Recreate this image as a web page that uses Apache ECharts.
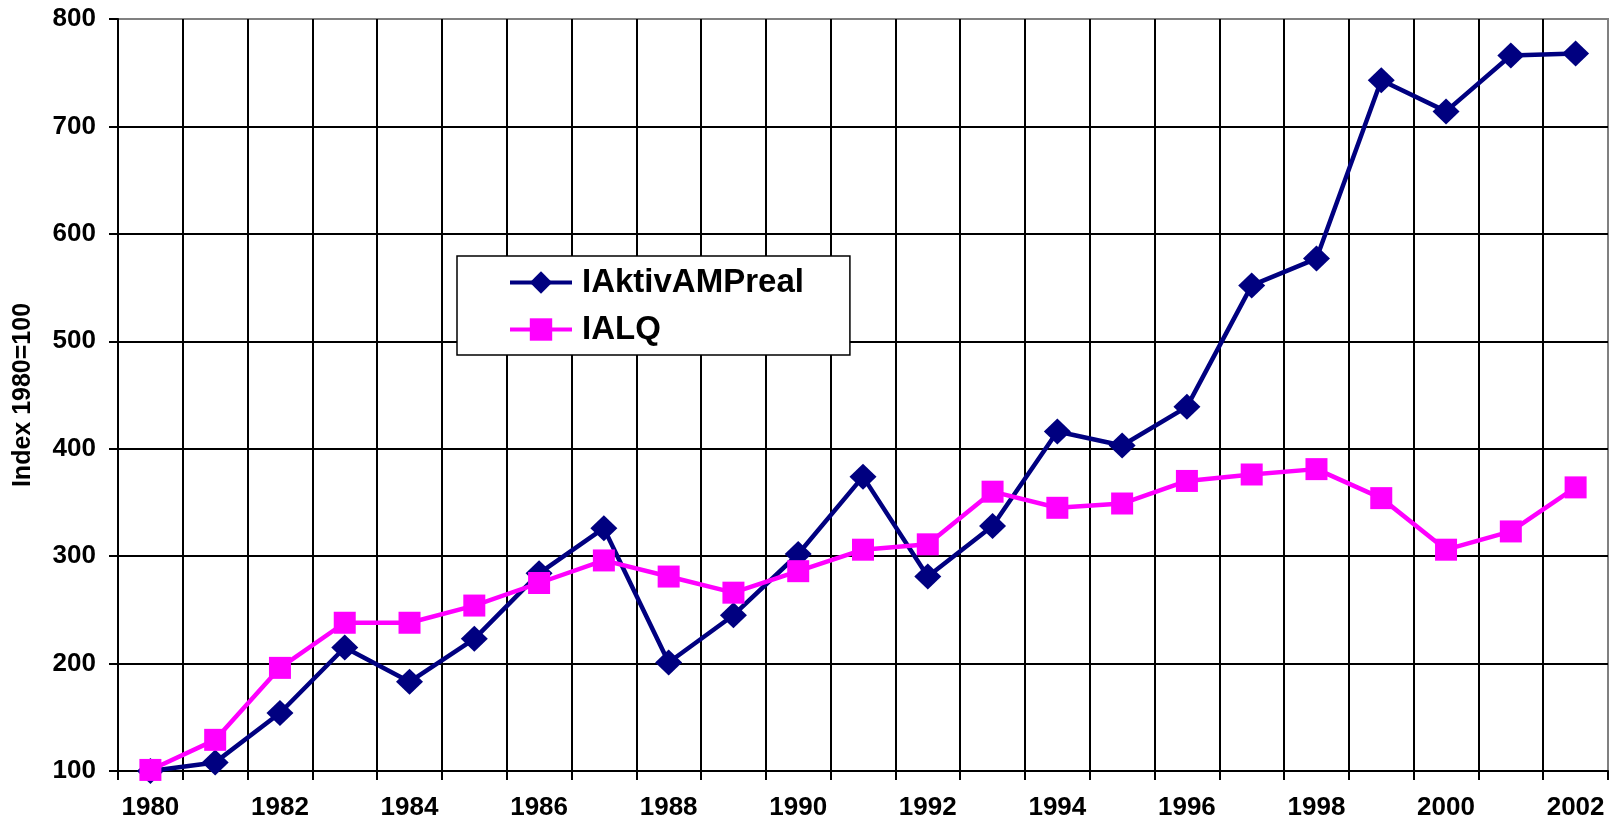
<!DOCTYPE html>
<html>
<head>
<meta charset="utf-8">
<script src="https://cdn.jsdelivr.net/npm/echarts@6/dist/echarts.min.js"></script>
<style>
html,body{margin:0;padding:0;background:#fff;}
#chart{width:1621px;height:824px;}
</style>
</head>
<body>
<div id="chart"></div>
<script>
var categories = ['1980','1981','1982','1983','1984','1985','1986','1987','1988','1989','1990','1991','1992','1993','1994','1995','1996','1997','1998','1999','2000','2001','2002'];
var seriesAktivName = 'IAktivAMPreal';
var seriesAktiv = [100,108,154,215,183,223,284,326,201,245,302,374,281,328,416,403,439,552,577,743,714,766,768];
var seriesALQName = 'IALQ';
var seriesALQ = [101,129,196,238,238,254,275,296,281,266,286,306,311,360,345,349,370,376,381,354,306,323,364];
var yAxisName = 'Index 1980=100';

var FONT = '"Liberation Sans", Arial, sans-serif';
var chart = echarts.init(document.getElementById('chart'), null, {renderer:'canvas'});
chart.setOption({
  backgroundColor: '#ffffff',
  animation: false,
  grid: {
    left: 118, right: 13, top: 19, bottom: 53,
    show: true, borderColor: '#808080', borderWidth: 2, backgroundColor: 'transparent'
  },
  legend: {
    orient: 'vertical',
    left: 457, top: 256,
    padding: [10, 46, 9, 51],
    itemGap: 14,
    itemWidth: 62, itemHeight: 28,
    backgroundColor: '#ffffff',
    borderColor: '#000000', borderWidth: 1.5,
    borderRadius: 0,
    align: 'left',
    lineStyle: {width: 4},
    textStyle: {fontFamily: FONT, fontWeight: 'bold', fontSize: 33, color: '#000', padding: [0,0,0,5]},
    data: [seriesAktivName, seriesALQName]
  },
  xAxis: {
    type: 'category',
    data: categories,
    boundaryGap: true,
    axisLine: {show: true, lineStyle: {color: '#000', width: 2}},
    axisTick: {show: true, interval: 0, length: 9, lineStyle: {color: '#000', width: 2}},
    axisLabel: {interval: 1, margin: 24, fontFamily: FONT, fontWeight: 'bold', fontSize: 26, color: '#000'},
    splitLine: {show: true, interval: 0, showMaxLine: false, lineStyle: {color: '#000', width: 2}}
  },
  yAxis: {
    type: 'value',
    min: 100, max: 800, interval: 100,
    name: yAxisName,
    nameLocation: 'middle',
    nameGap: 82,
    nameTextStyle: {fontFamily: FONT, fontWeight: 'bold', fontSize: 25, color: '#000'},
    axisLine: {show: true, lineStyle: {color: '#000', width: 2}},
    axisTick: {show: true, length: 9, lineStyle: {color: '#000', width: 2}},
    axisLabel: {margin: 22, fontFamily: FONT, fontWeight: 'bold', fontSize: 26, color: '#000'},
    splitLine: {show: true, showMaxLine: false, lineStyle: {color: '#000', width: 2}}
  },
  series: [
    {
      name: seriesAktivName,
      type: 'line',
      data: seriesAktiv,
      symbol: 'diamond',
      symbolSize: [27, 26],
      lineStyle: {color: '#000080', width: 4.5},
      itemStyle: {color: '#000080'},
      z: 3
    },
    {
      name: seriesALQName,
      type: 'line',
      data: seriesALQ,
      symbol: 'rect',
      symbolSize: 22,
      lineStyle: {color: '#FF00FF', width: 4.5},
      itemStyle: {color: '#FF00FF'},
      z: 4
    }
  ]
});
</script>
</body>
</html>
